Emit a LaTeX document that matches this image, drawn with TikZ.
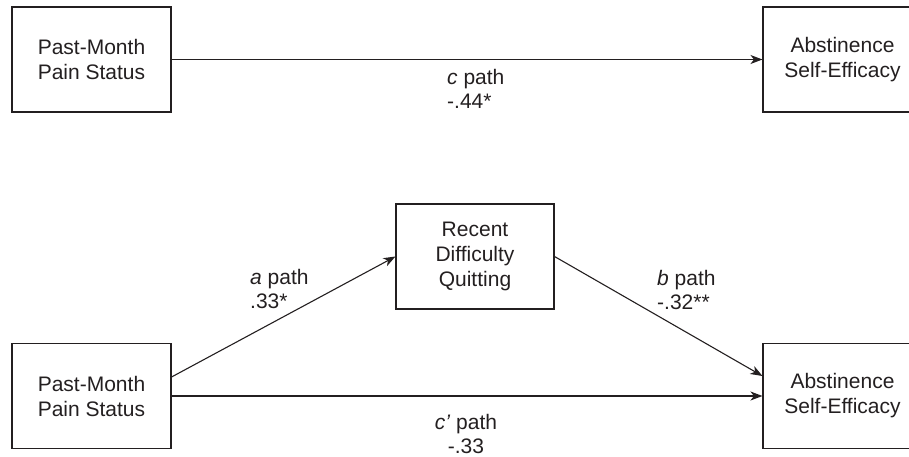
\documentclass[tikz,border=0pt]{standalone}
\usepackage{fontspec}
\setmainfont{Liberation Sans}
\usetikzlibrary{arrows.meta}
\definecolor{ink}{HTML}{231F20}
\begin{document}
\begin{tikzpicture}[x=1pt,y=-1pt,
  box/.style={draw=ink, line width=1.1pt, minimum width=159pt, minimum height=105pt,
    inner sep=0pt, align=center, font=\fontsize{21}{25}\selectfont, text=ink},
  lbl/.style={inner sep=0pt, font=\fontsize{21}{24}\selectfont, text=ink},
  conn/.style={draw=ink, line width=1.1pt, -{Stealth[length=12pt,width=9pt,inset=3.5pt]}}]
\useasboundingbox (0,0) rectangle (909,457);
\clip (0,0) rectangle (909,457);
% top model
\node[box] (tl) at (91.5,59.5) {Past-Month\\Pain Status};
\node[box] (tr) at (842.5,59.5) {Abstinence\\Self-Efficacy};
\draw[conn] (tl) -- (tr);
\node[lbl, anchor=north west, align=left] (lc) at (447,69) {\textit{c} path\\-.44*};
% bottom model
\node[box] (bl) at (91.5,396) {Past-Month\\Pain Status};
\node[box] (br) at (842.5,396) {Abstinence\\Self-Efficacy};
\node[box, minimum width=158pt] (mid) at (475,256.5) {Recent\\Difficulty\\Quitting};
\draw[conn] (bl) -- (br);
\draw[conn] ([yshift=19pt]bl.east) -- (mid.west);
\draw[conn] (mid.east) -- ([yshift=20pt]br.west);
\node[lbl, anchor=north west, align=left] (la) at (250,269) {\textit{a} path\\.33*};
\node[lbl, anchor=north west, align=left] (lb) at (657,270) {\textit{b} path\\-.32**};
\node[lbl, anchor=north, align=center] (lcp) at (466,414) {\textit{c’} path\\-.33};
\end{tikzpicture}
\end{document}
